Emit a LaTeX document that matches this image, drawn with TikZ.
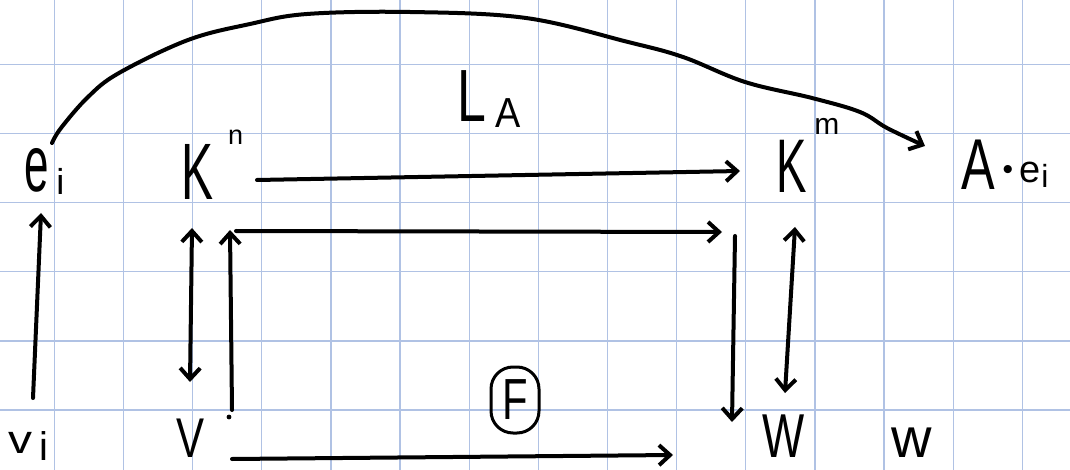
\documentclass[tikz,border=0pt]{standalone}
\usepackage{fontspec}
\setmainfont{Liberation Sans}
\usetikzlibrary{arrows.meta}
\definecolor{gridblue}{RGB}{176,194,228}
\newcommand\hw[3]{\scalebox{#2}[1]{\fontsize{#1}{#1}\selectfont #3}}
\begin{document}
\begin{tikzpicture}[x=1pt,y=-1pt,
  gridline/.style={gridblue, line width=1.3pt},
  hand/.style={line width=4pt, line cap=round, line join=round},
  tipend/.style={-{Straight Barb[length=11pt,width=20pt]}},
  tipboth/.style={{Straight Barb[length=11pt,width=20pt]}-{Straight Barb[length=11pt,width=20pt]}},
  lbl/.style={anchor=base west, inner sep=0pt, outer sep=0pt}]
\fill[white] (0,0) rectangle (1070,470);
\useasboundingbox (0,0) rectangle (1070,470);
% grid
\foreach \i in {0,...,14} {\draw[gridline] (54.3+69.15*\i,0) -- (54.3+69.15*\i,470);}
\foreach \j in {0,...,5} {\draw[gridline] (0,64.3+69.15*\j) -- (1070,64.3+69.15*\j);}
% labels
\node[lbl] (ei) at (24,192) {\hw{80}{0.55}{e}\hspace{8pt}\raisebox{-3pt}{\fontsize{36}{36}\selectfont i}};
\node[lbl] (kn) at (181,200) {\hw{80}{0.6}{K}\hspace{15pt}\raisebox{55pt}{\fontsize{27}{27}\selectfont n}};
\node[lbl] (km) at (776,193) {\hw{76}{0.6}{K}\hspace{8pt}\raisebox{58pt}{\fontsize{30}{30}\selectfont m}};
\node[lbl] (aei) at (961,190) {\hw{72}{0.7}{A}\hspace{8pt}\raisebox{10pt}{\fontsize{30}{30}\selectfont •}\hspace{6pt}\raisebox{7pt}{\fontsize{38}{38}\selectfont e}\hspace{1pt}\raisebox{2pt}{\fontsize{32}{32}\selectfont i}};
\node[lbl] (la) at (457,122) {\hw{74}{0.7}{L}\hspace{10pt}\raisebox{-6pt}{\hw{42}{0.9}{A}}};
\node[lbl] (vi) at (9,453) {\hw{40}{1.2}{v}\hspace{7pt}\raisebox{-7pt}{\fontsize{40}{40}\selectfont i}};
\node[lbl] (V) at (176,457) {\hw{56}{0.75}{V}};
\node[lbl] (W) at (762,457) {\hw{62}{0.72}{W}};
\node[lbl] (w) at (891,457) {\fontsize{56}{56}\selectfont w};
\node[draw, line width=3pt, rounded corners=22pt, minimum width=48pt, minimum height=66pt, inner sep=0pt] (F) at (515,400) {\hw{58}{0.72}{F}};
% connector end points
\coordinate (ka) at (257,180);
\coordinate (kb) at (740,171);
\coordinate (va) at (33,398);
\coordinate (vb) at (41,213);
\coordinate (na) at (192,228);
\coordinate (nb) at (190,382);
\coordinate (ra) at (232,410);
\coordinate (rb) at (230,230);
\coordinate (rc) at (236,231);
\coordinate (rd) at (722,232);
\coordinate (da) at (735,236);
\coordinate (db) at (732,422);
\coordinate (ma) at (795,227);
\coordinate (mb) at (785,393);
\coordinate (ba) at (232,459);
\coordinate (bb) at (673,455);
\coordinate (ca) at (52,143);
\coordinate (cb) at (925,146);
\coordinate (dot) at (229,417);
% connectors
\draw[hand, tipend] (ka) -- (kb);
\draw[hand, tipend] (va) -- (vb);
\draw[hand, tipboth] (na) -- (nb);
\draw[hand, tipend] (ra) -- (rb);
\draw[hand, tipend] (rc) -- (rd);
\draw[hand, tipend] (da) -- (db);
\draw[hand, tipboth] (ma) -- (mb);
\draw[hand, tipend] (ba) -- (bb);
\draw[hand, tipend] plot[smooth, tension=0.6] coordinates {(ca) (61,128) (88,97) (119,73) (188,40) (250,24) (307,14) (410,12) (526,18) (628,42) (683,57) (745,82) (812,98) (860,112) (887,128) (cb)};
\fill (dot) circle (2.4pt);
\end{tikzpicture}
\end{document}
